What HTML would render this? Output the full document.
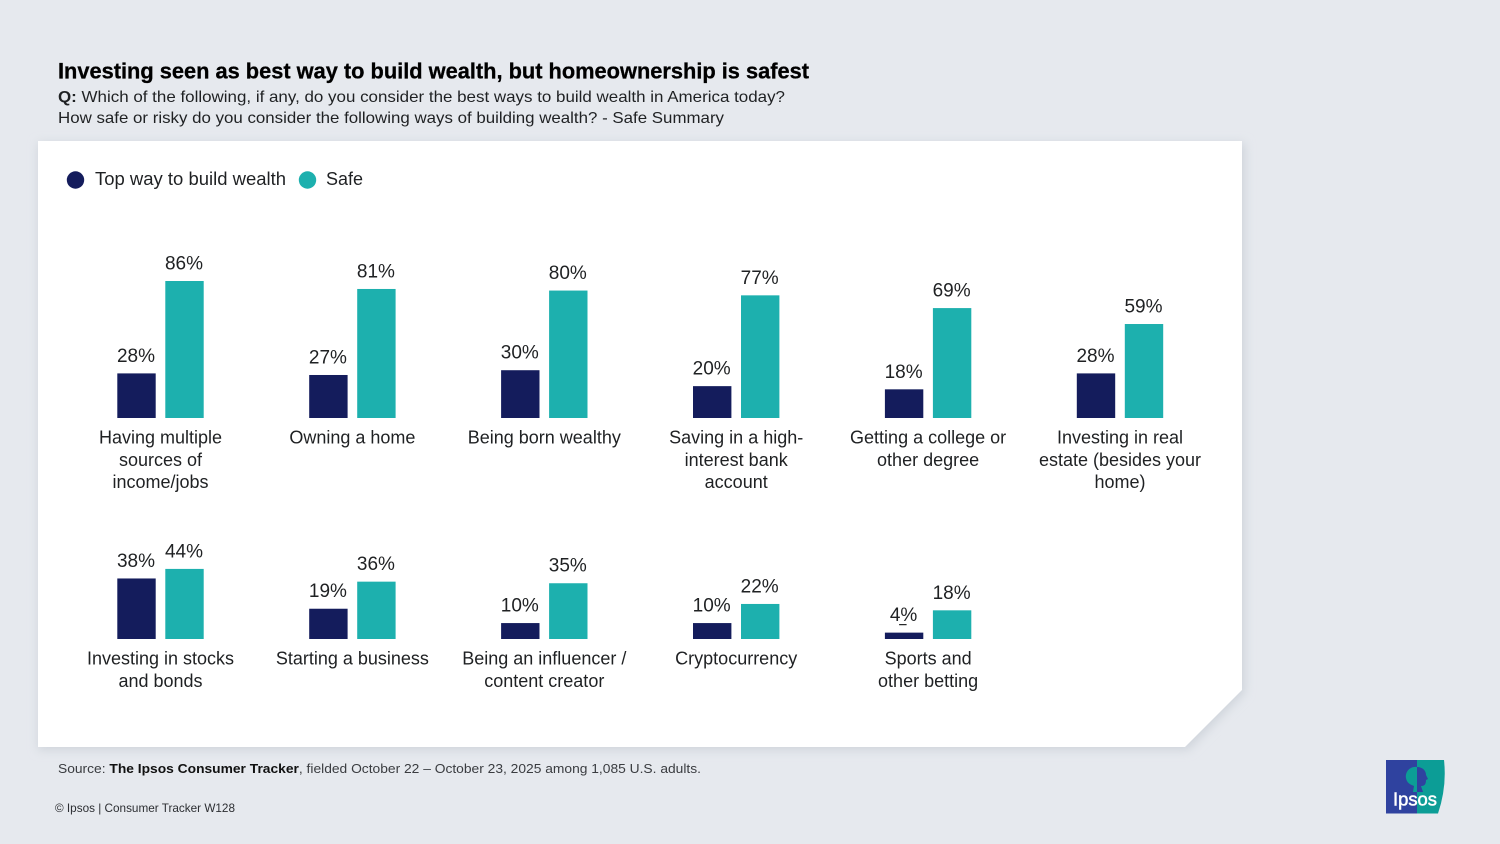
<!DOCTYPE html>
<html lang="en">
<head>
<meta charset="utf-8">
<title>Investing seen as best way to build wealth</title>
<style>
html,body{margin:0;padding:0;background:#e6e9ee;}
body{width:1500px;height:844px;overflow:hidden;position:relative;font-family:"Liberation Sans",sans-serif;}
svg{position:absolute;left:0;top:0;}
text{font-family:"Liberation Sans",sans-serif;fill:#1f2123;}
</style>
</head>
<body>
<svg id="chart" width="1500" height="844" viewBox="0 0 1500 844">
  <defs>
    <filter id="soft" x="-5%" y="-5%" width="110%" height="110%">
      <feGaussianBlur stdDeviation="5"/>
    </filter>
  </defs>
  <polygon points="38,143 1245,143 1245,692 1188,750 38,750" fill="#cfd4db" filter="url(#soft)"/>
  <polygon points="38,141 1242,141 1242,690 1185,747 38,747" fill="#ffffff"/>

  <text x="58" y="78.500" font-size="22.500" font-weight="700" style="fill:#000;stroke:#000;stroke-width:0.3" textLength="751" lengthAdjust="spacingAndGlyphs">Investing seen as best way to build wealth, but homeownership is safest</text>
  <text x="58" y="102" font-size="16" textLength="727" lengthAdjust="spacingAndGlyphs"><tspan font-weight="700">Q:</tspan> Which of the following, if any, do you consider the best ways to build wealth in America today?</text>
  <text x="58" y="123" font-size="16" textLength="666" lengthAdjust="spacingAndGlyphs">How safe or risky do you consider the following ways of building wealth? - Safe Summary</text>

  <circle cx="75.500" cy="180" r="8.700" fill="#141c5c"/>
  <text x="95" y="185" font-size="18" textLength="191" lengthAdjust="spacingAndGlyphs">Top way to build wealth</text>
  <circle cx="307.500" cy="180" r="8.700" fill="#1db0ae"/>
  <text x="326" y="185" font-size="18" textLength="37" lengthAdjust="spacingAndGlyphs">Safe</text>

  <g id="bars"></g>

  <text x="58" y="773" font-size="13" textLength="643" lengthAdjust="spacingAndGlyphs" style="fill:#3a3c40">Source: <tspan font-weight="700" style="fill:#111">The Ipsos Consumer Tracker</tspan>, fielded October 22 – October 23, 2025 among 1,085 U.S. adults.</text>
  <text x="55" y="812" font-size="12" textLength="180" lengthAdjust="spacingAndGlyphs" style="fill:#2c2e32">© Ipsos | Consumer Tracker W128</text>

  <g>
    <path d="M1416,760 L1444,760 Q1447,787 1438,813.500 L1416,813.500 Z" fill="#0c9d96"/>
    <rect x="1386" y="760" width="31" height="53.500" fill="#2f429f"/>
    <path d="M1417,767 C1409,766 1405,773 1406,778 C1407,784 1412,785 1414,786 L1413,792 L1417,792 Z" fill="#0c9d96"/>
    <path d="M1417,767 C1423,767 1426,771 1426,775 L1428,779 L1426,780 C1426,785 1424,786 1421,786 L1423,792 L1417,792 Z" fill="#2f429f"/>
    <text x="1393" y="805.500" font-size="18.500" font-weight="400" style="fill:#fff;stroke:#fff;stroke-width:0.5" textLength="44" lengthAdjust="spacingAndGlyphs">Ipsos</text>
  </g>
</svg>
<script>
const categories = [
  ["Having multiple", "sources of", "income/jobs"],
  ["Owning a home"],
  ["Being born wealthy"],
  ["Saving in a high-", "interest bank", "account"],
  ["Getting a college or", "other degree"],
  ["Investing in real", "estate (besides your", "home)"],
  ["Investing in stocks", "and bonds"],
  ["Starting a business"],
  ["Being an influencer /", "content creator"],
  ["Cryptocurrency"],
  ["Sports and", "other betting"]
];
const topWayValues = [28, 27, 30, 20, 18, 28, 38, 19, 10, 10, 4];
const safeValues = [86, 81, 80, 77, 69, 59, 44, 36, 35, 22, 18];

const NS = 'http://www.w3.org/2000/svg';
const root = document.getElementById('bars');
const PER_ROW = 6;
const COLUMN_START = 160.5;
const COLUMN_STEP = 191.9;
const ROW_BASELINES = [418, 639];
const PX_PER_POINT = 1.593;
const BAR_WIDTH = 38.4;
const BAR_OFFSET = 24;
const LEADER_BELOW = 5;

function xCenter(i) { return COLUMN_START + (i % PER_ROW) * COLUMN_STEP; }
function baseline(i) { return ROW_BASELINES[Math.floor(i / PER_ROW)]; }
function barHeight(v) { return v * PX_PER_POINT; }
function slug(lines) { return lines.join(' ').toLowerCase().replace(/[^a-z0-9]+/g, '-').replace(/^-|-$/g, ''); }

function drawBar(group, cx, base, value, color, seriesName, catSlug) {
  const h = barHeight(value);
  const rect = document.createElementNS(NS, 'rect');
  
  
  rect.setAttribute('x', cx - BAR_WIDTH / 2);
  rect.setAttribute('y', base - h);
  rect.setAttribute('width', BAR_WIDTH);
  rect.setAttribute('height', h);
  rect.setAttribute('fill', color);
  group.appendChild(rect);

  const label = document.createElementNS(NS, 'text');
  
  
  label.setAttribute('x', cx - 0.5);
  label.setAttribute('y', base - h - 11.5);
  label.setAttribute('text-anchor', 'middle');
  label.setAttribute('font-size', '19');
  label.textContent = value + '%';
  group.appendChild(label);

  if (value < LEADER_BELOW) {
    const leader = document.createElementNS(NS, 'line');
    
    
    leader.setAttribute('x1', cx - 5);
    leader.setAttribute('x2', cx + 2.5);
    leader.setAttribute('y1', base - h - 8);
    leader.setAttribute('y2', base - h - 8);
    leader.setAttribute('stroke', '#1f2123');
    leader.setAttribute('stroke-width', '1.2');
    group.appendChild(leader);
  }
}

categories.forEach(function (lines, i) {
  const cx = xCenter(i);
  const base = baseline(i);
  const catSlug = slug(lines);

  const group = document.createElementNS(NS, 'g');
  
  
  root.appendChild(group);

  drawBar(group, cx - BAR_OFFSET, base, topWayValues[i], '#141c5c', 'top-way', catSlug);
  drawBar(group, cx + BAR_OFFSET, base, safeValues[i], '#1db0ae', 'safe', catSlug);

  lines.forEach(function (line, j) {
    const t = document.createElementNS(NS, 'text');
    
    
    t.setAttribute('x', cx);
    t.setAttribute('y', base + 25.5 + j * 22.3);
    t.setAttribute('text-anchor', 'middle');
    t.setAttribute('font-size', '18');
    t.textContent = line;
    group.appendChild(t);
  });
});
</script>
</body>
</html>
